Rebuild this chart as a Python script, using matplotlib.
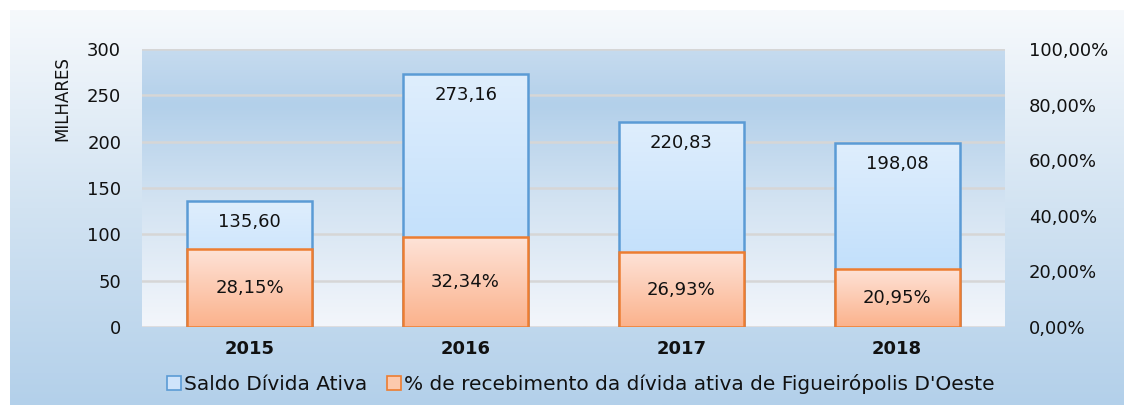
import numpy as np
import matplotlib.pyplot as plt
from matplotlib.colors import LinearSegmentedColormap
from matplotlib.patches import Rectangle
from matplotlib.ticker import FuncFormatter

plt.rcParams['font.family'] = ['DejaVu Sans']

# Data
anos = ['2015', '2016', '2017', '2018']
saldo = [135.60, 273.16, 220.83, 198.08]          # milhares
recebimento = [28.15, 32.34, 26.93, 20.95]        # %

serie_saldo = 'Saldo Dívida Ativa'
serie_receb = "% de recebimento da dívida ativa de Figueirópolis D'Oeste"


def fmt(v):
    return f"{v:.2f}".replace('.', ',')


def vgrad(top, bottom, n=256):
    cmap = LinearSegmentedColormap.from_list('g', [bottom, top])
    return cmap, np.linspace(0, 1, n).reshape(-1, 1)


def gradient_bars(ax, bars, top, bottom, z):
    cmap, g = vgrad(top, bottom)
    for b in bars:
        x0, y0 = b.get_x(), b.get_y()
        im = ax.imshow(g, cmap=cmap, origin='lower', aspect='auto',
                       extent=[x0, x0 + b.get_width(), y0, y0 + b.get_height()],
                       zorder=z, interpolation='bilinear')
        im.set_clip_path(b)


fig = plt.figure(figsize=(11.24, 4.05), dpi=100)

# outer chart background
bg = fig.add_axes([10 / 1124, 0, 1 - 10 / 1124, 1 - 10 / 405], zorder=-5)
bg.axis('off')
cmap_bg = LinearSegmentedColormap.from_list('bg', ['#b3d0ea', '#d2e3f2', '#f6f9fc'])
bg.imshow(np.linspace(0, 1, 256).reshape(-1, 1), cmap=cmap_bg, origin='lower',
          aspect='auto', extent=[0, 1, 0, 1], interpolation='bilinear')
bg.set_xlim(0, 1)
bg.set_ylim(0, 1)

L, R, T, B = 142, 1005, 49, 327
ax = fig.add_axes([L / 1124, 1 - B / 405, (R - L) / 1124, (B - T) / 405])
ax.patch.set_alpha(0)

# plot area background
cmap_pa = LinearSegmentedColormap.from_list(
    'pa', [(0, '#f3f6fb'), (0.45, '#d3e3f2'), (0.8, '#b3d0ea'), (1, '#c6dbef')])
ax.imshow(np.linspace(0, 1, 256).reshape(-1, 1), cmap=cmap_pa, origin='lower',
          aspect='auto', extent=[0, 1, 0, 1], transform=ax.transAxes,
          zorder=-2, interpolation='bilinear')

x = np.arange(len(anos))
w = 0.58

ax.set_xlim(-0.5, len(anos) - 0.5)
ax.set_ylim(0, 300)
ax.set_yticks(np.arange(0, 301, 50))
ax.yaxis.grid(True, color='#d6d6d6', linewidth=1.8, zorder=0)
ax.set_axisbelow(True)

bars1 = ax.bar(x, saldo, width=w, facecolor='none', edgecolor='#5b9bd5',
               linewidth=1.8, zorder=3)
gradient_bars(ax, bars1, '#dfeefd', '#b5d9fa', 2)
for xi, v in zip(x, saldo):
    ax.annotate(fmt(v), (xi, v), xytext=(0, -15), textcoords='offset points',
                ha='center', va='center', fontsize=13, color='#111111', zorder=5)

ax2 = ax.twinx()
ax2.set_ylim(0, 100)
ax2.set_yticks(np.arange(0, 101, 20))
ax2.yaxis.set_major_formatter(FuncFormatter(lambda v, p: fmt(v) + '%'))
ax2.set_xlim(ax.get_xlim())

bars2 = ax2.bar(x, recebimento, width=w, facecolor='none', edgecolor='#ed7d31',
                linewidth=1.8, zorder=3)
gradient_bars(ax2, bars2, '#fee3d8', '#fbb28c', 2)
for xi, v in zip(x, recebimento):
    ax2.text(xi, v / 2, fmt(v) + '%', ha='center', va='center', fontsize=13,
             color='#111111', zorder=5)

for a in (ax, ax2):
    for s in a.spines.values():
        s.set_visible(False)
    a.tick_params(length=0, labelsize=13, colors='#111111')

ax.tick_params(axis='y', pad=15)
ax2.tick_params(axis='y', pad=17)
ax.set_xticks(x)
ax.set_xticklabels(anos, fontweight='bold', fontsize=13)
ax.tick_params(axis='x', pad=9)

ax.set_ylabel('MILHARES', fontsize=12, color='#111111')
ax.yaxis.set_label_coords(-0.082, 0.82)

h1 = Rectangle((0, 0), 1, 1, facecolor='#cfe4fb', edgecolor='#5b9bd5', linewidth=1.2)
h2 = Rectangle((0, 0), 1, 1, facecolor='#fcc9ad', edgecolor='#ed7d31', linewidth=1.2)
fig.legend([h1, h2], [serie_saldo, serie_receb], loc='center',
           bbox_to_anchor=(581 / 1124, 1 - 384 / 405), ncol=2, frameon=False,
           fontsize=14.5, handlelength=0.7, handleheight=0.7, handletextpad=0.15,
           columnspacing=1.0, labelcolor='#111111')

fig.savefig('out.png', dpi=100)
